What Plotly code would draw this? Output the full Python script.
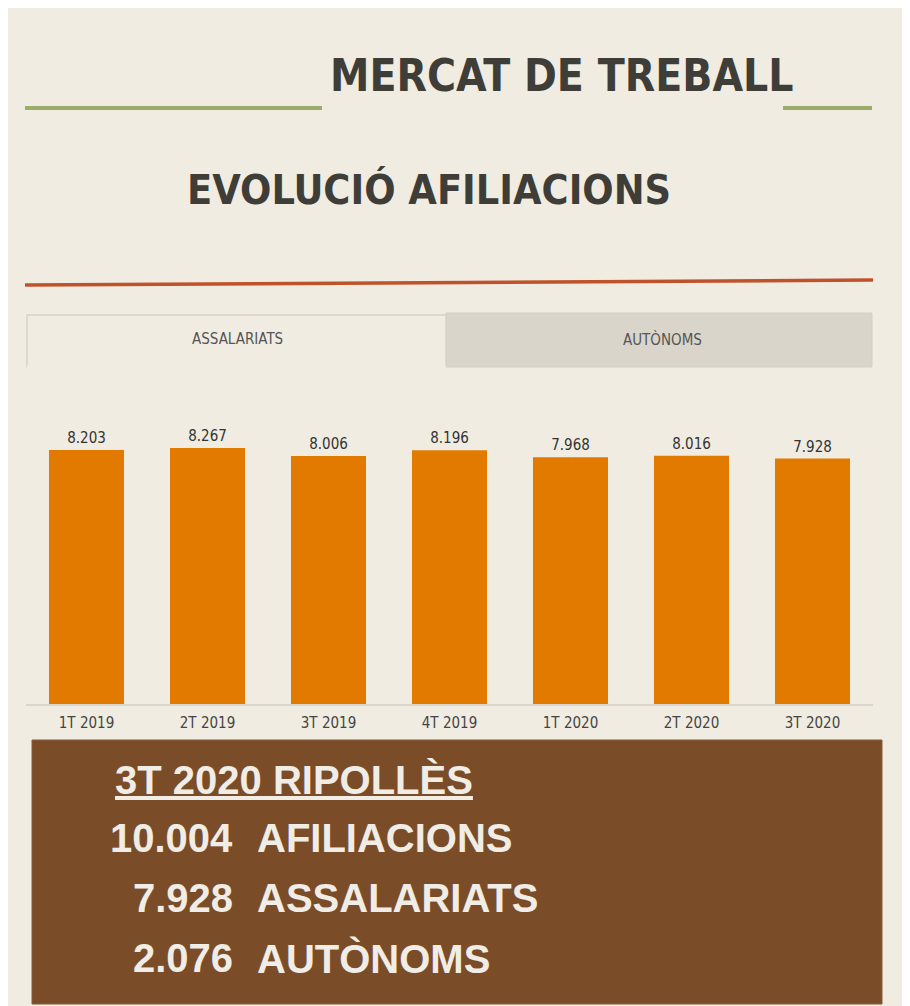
import plotly.graph_objects as go

OFF = 8  # page body margin
W, H = 910 - OFF, 1006 - OFF

# ---- data ----
quarters = ["1T 2019", "2T 2019", "3T 2019", "4T 2019", "1T 2020", "2T 2020", "3T 2020"]
assalariats = [8203, 8267, 8006, 8196, 7968, 8016, 7928]
tabs = ["ASSALARIATS", "AUTÒNOMS"]
summary_title = "3T 2020 RIPOLLÈS"
summary_values = ["10.004", "7.928", "2.076"]
summary_labels = ["AFILIACIONS", "ASSALARIATS", "AUTÒNOMS"]

def px(x):
    return (x - OFF) / W

def py(y):
    return 1 - (y - OFF) / H

BEIGE = "#F0ECE1"
TAB_GREY = "#D9D5CB"
BROWN = "#7B4C28"
DARK = "#3E3D38"
ORANGE = "#E27A00"
COND = "Liberation Sans Narrow, DejaVu Sans Condensed, Liberation Sans, Arial"
SANS = "Liberation Sans, Arial, DejaVu Sans"

fig = go.Figure()
fig.add_trace(go.Bar(
    x=quarters, y=assalariats,
    marker=dict(color=ORANGE, line=dict(width=0)),
    texttemplate="%{y:,}", textposition="outside",
    textfont=dict(family=COND, size=15, color="#333333"),
    cliponaxis=False, hoverinfo="x+y",
))

shapes = [
    # beige panel
    dict(type="rect", xref="paper", yref="paper", x0=px(5), x1=px(905), y0=py(1010), y1=py(6),
         fillcolor=BEIGE, line=dict(width=0), layer="below"),
    # green lines
    dict(type="line", xref="paper", yref="paper", x0=px(25), x1=px(322), y0=py(108), y1=py(108),
         line=dict(color="#9AAE6A", width=4)),
    dict(type="line", xref="paper", yref="paper", x0=px(783), x1=px(872), y0=py(108), y1=py(108),
         line=dict(color="#9AAE6A", width=4)),
    # red line
    dict(type="line", xref="paper", yref="paper", x0=px(25), x1=px(873), y0=py(285), y1=py(280),
         line=dict(color="#C0522A", width=3.5)),
    # tabs
    dict(type="rect", xref="paper", yref="paper", x0=px(446), x1=px(872), y0=py(367), y1=py(313),
         fillcolor=TAB_GREY, line=dict(color="#D3CFC5", width=1), layer="below"),
    dict(type="rect", xref="paper", yref="paper", x0=px(27), x1=px(446), y0=py(367), y1=py(315),
         fillcolor=BEIGE, line=dict(color="#D6D2C8", width=1.5), layer="below"),
    dict(type="line", xref="paper", yref="paper", x0=px(27), x1=px(446), y0=py(367), y1=py(367),
         line=dict(color=BEIGE, width=3)),
    # brown box
    dict(type="rect", xref="paper", yref="paper", x0=px(32), x1=px(882), y0=py(1004), y1=py(740),
         fillcolor=BROWN, line=dict(color="#8A5A34", width=1)),
]

annotations = [
    dict(text="<b>MERCAT DE TREBALL</b>", x=px(561), y=py(76), xref="paper", yref="paper",
         showarrow=False, font=dict(family=COND, size=44, color=DARK), xanchor="center", yanchor="middle"),
    dict(text="<b>EVOLUCIÓ AFILIACIONS</b>", x=px(429), y=py(190), xref="paper", yref="paper",
         showarrow=False, font=dict(family=COND, size=41, color=DARK), xanchor="center", yanchor="middle"),
    dict(text=tabs[0], x=px(237), y=py(339), xref="paper", yref="paper", showarrow=False,
         font=dict(family=COND, size=15, color="#555555"), xanchor="center", yanchor="middle"),
    dict(text=tabs[1], x=px(662), y=py(339), xref="paper", yref="paper", showarrow=False,
         font=dict(family=COND, size=15, color="#555555"), xanchor="center", yanchor="middle"),
    dict(text="<b>" + summary_title + "</b>", x=px(113), y=py(780), xref="paper", yref="paper",
         showarrow=False, xanchor="left", yanchor="middle",
         font=dict(family=SANS, size=40, color="#F0ECE6", lineposition="under")),
]
line_ys = [838, 898, 958]
for v, lab, yy in zip(summary_values, summary_labels, line_ys):
    annotations.append(dict(text="<b>" + v + "</b>", x=px(235), y=py(yy), xref="paper", yref="paper",
                            showarrow=False, xanchor="right", yanchor="middle",
                            font=dict(family=SANS, size=40, color="#F0ECE6")))
    annotations.append(dict(text="<b>" + lab + "</b>", x=px(255), y=py(yy), xref="paper", yref="paper",
                            showarrow=False, xanchor="left", yanchor="middle",
                            font=dict(family=SANS, size=40, color="#F0ECE6")))

fig.update_layout(
    width=W, height=H,
    margin=dict(l=0, r=0, t=0, b=0),
    paper_bgcolor="white", plot_bgcolor="rgba(0,0,0,0)",
    separators=",.",
    showlegend=False,
    bargap=0.38,
    shapes=shapes,
    annotations=annotations,
    xaxis=dict(domain=[px(26), px(873)], showline=True, linecolor="#D9D6CD", linewidth=1.5,
               ticks="", showgrid=False, tickfont=dict(family=COND, size=15, color="#444444"),
               ticklabelstandoff=4, fixedrange=True),
    yaxis=dict(domain=[py(704), py(400)], range=[0, 9818], visible=False, showgrid=False,
               fixedrange=True),
)

fig.write_html("out.html")
